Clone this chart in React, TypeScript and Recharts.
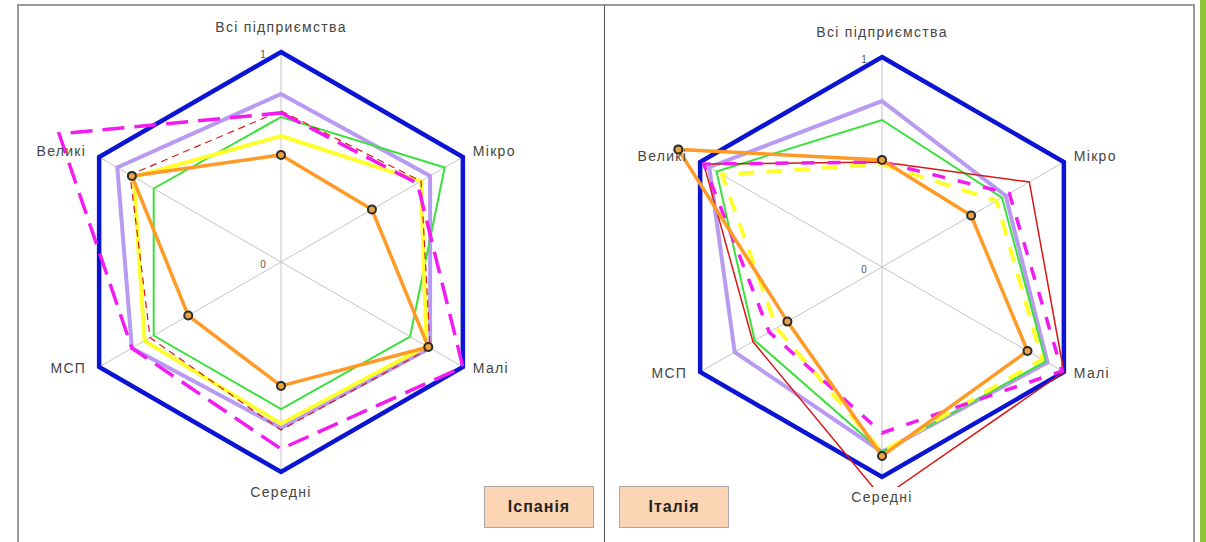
import React from "react";
import { PolarAngleAxis, PolarGrid, PolarRadiusAxis, Radar, RadarChart } from "recharts";

const categories = ["Всі підприємства", "Мікро", "Малі", "Середні", "МСП", "Великі"];
const radiusTicks = [0, 1];

// Іспанія
const spainBlue = [1, 1, 1, 1, 1, 1];
const spainLavender = [0.8, 0.82, 0.82, 0.79, 0.82, 0.9];
const spainGreen = [0.69, 0.9, 0.71, 0.7, 0.7, 0.7];
const spainYellow = [0.6, 0.77, 0.8, 0.77, 0.75, 0.81];
const spainRed = [0.72, 0.77, 0.82, 0.8, 0.72, 0.83];
const spainMagenta = [0.71, 0.75, 1.0, 0.89, 0.82, 1.22];
const spainOrange = [0.51, 0.5, 0.81, 0.59, 0.51, 0.82];

// Італія
const italyBlue = [1, 1, 1, 1, 1, 1];
const italyLavender = [0.79, 0.68, 0.91, 0.88, 0.81, 0.95];
const italyGreen = [0.7, 0.66, 0.9, 0.88, 0.7, 0.91];
const italyYellow = [0.49, 0.63, 0.88, 0.88, 0.58, 0.88];
const italyRed = [0.5, 0.81, 1.0, 1.1, 0.71, 0.98];
const italyMagenta = [0.5, 0.7, 0.99, 0.79, 0.62, 0.98];
const italyOrange = [0.51, 0.49, 0.8, 0.9, 0.52, 1.12];

const buildRows = (series: Record<string, number[]>) =>
  categories.map((category, i) => {
    const row: Record<string, string | number> = { category };
    Object.keys(series).forEach((k) => (row[k] = series[k][i]));
    return row;
  });

const spainRows = buildRows({
  blue: spainBlue,
  lavender: spainLavender,
  green: spainGreen,
  yellow: spainYellow,
  red: spainRed,
  magenta: spainMagenta,
  orange: spainOrange,
});

const italyRows = buildRows({
  blue: italyBlue,
  lavender: italyLavender,
  green: italyGreen,
  yellow: italyYellow,
  red: italyRed,
  magenta: italyMagenta,
  orange: italyOrange,
});

const labelFont = { fontFamily: "Liberation Sans, Arial, sans-serif", fontSize: 14, fill: "#454545", letterSpacing: 1.3 };

function AngleTick(props: any) {
  const { x, y, payload } = props;
  const idx = categories.indexOf(payload.value);
  let tx = x;
  let ty = y;
  let anchor: "start" | "middle" | "end" = "middle";
  if (idx === 0) ty = y - 17;
  else if (idx === 3) ty = y + 12;
  else if (idx === 1 || idx === 2) {
    tx = x + 3;
    ty = y - (idx === 1 ? 2 : 3);
    anchor = "start";
  } else {
    tx = x - 6;
    ty = y - (idx === 5 ? 2 : 3);
    anchor = "end";
  }
  return (
    <g>
      {idx === 3 && <rect x={tx - 36} y={ty - 10} width={72} height={20} fill="#fff" />}
      <text x={tx} y={ty} textAnchor={anchor} dominantBaseline="central" {...labelFont}>
        {payload.value}
      </text>
    </g>
  );
}

function RadiusTick(props: any) {
  const { x, y, payload } = props;
  return (
    <text x={x - 18} y={y + 2} textAnchor="middle" dominantBaseline="central" fontFamily="Liberation Sans, Arial, sans-serif" fontSize={10} fill="#555">
      {payload.value}
    </text>
  );
}

type Dash = { red?: string; magenta?: string; yellow?: string; redWidth?: number };

function CountryRadar({ rows, width, cx, cy, dash }: { rows: any[]; width: number; cx: number; cy: number; dash: Dash }) {
  return (
    <RadarChart width={width} height={542} data={rows} cx={cx} cy={cy} outerRadius={210} margin={{ top: 0, right: 0, bottom: 0, left: 0 }}>
      <PolarGrid gridType="polygon" stroke="#c4c4c4" polarRadius={[0]} />
      <PolarRadiusAxis angle={90} domain={[0, 1]} ticks={radiusTicks as any} tickCount={2} allowDataOverflow axisLine={false} tickLine={false} tick={(p: any) => <RadiusTick {...p} />} />
      <Radar dataKey="blue" stroke="#0A14D2" strokeWidth={4.5} fill="none" isAnimationActive={false} />
      <Radar dataKey="lavender" stroke="#B99AF2" strokeWidth={4} fill="none" isAnimationActive={false} />
      <Radar dataKey="green" stroke="#3BE03B" strokeWidth={2} fill="none" isAnimationActive={false} />
      <Radar dataKey="yellow" stroke="#FFFF2E" strokeWidth={4} strokeDasharray={dash.yellow} fill="none" isAnimationActive={false} />
      <Radar dataKey="red" stroke="#D81818" strokeWidth={dash.redWidth ?? 1.2} strokeDasharray={dash.red} fill="none" isAnimationActive={false} />
      <Radar dataKey="magenta" stroke="#F21CF2" strokeWidth={3.5} strokeDasharray={dash.magenta} fill="none" isAnimationActive={false} />
      <Radar
        dataKey="orange"
        stroke="#FF9A26"
        strokeWidth={3.5}
        fill="none"
        dot={{ r: 4, fill: "#E9A23E", stroke: "#2a2a2a", strokeWidth: 2 }}
        isAnimationActive={false}
      />
      <PolarAngleAxis dataKey="category" tickLine={false} axisLine={false} tick={(p: any) => <AngleTick {...p} />} />
    </RadarChart>
  );
}

function CountryBox({ left, text }: { left: number; text: string }) {
  return (
    <div
      style={{
        position: "absolute",
        left,
        top: 486,
        width: 110,
        height: 42,
        boxSizing: "border-box",
        background: "#FCD5B4",
        border: "1px solid #a8a8a8",
        display: "flex",
        alignItems: "center",
        justifyContent: "center",
        fontFamily: "Liberation Sans, Arial, sans-serif",
        fontWeight: "bold",
        fontSize: 16,
        letterSpacing: 1,
        color: "#222",
      }}
    >
      {text}
    </div>
  );
}

export default function App() {
  return (
    <div style={{ position: "absolute", left: 0, top: 0, width: 1206, height: 542, background: "#fff", overflow: "hidden" }}>
      <div style={{ position: "absolute", left: 17, top: 4, width: 1178, height: 560, boxSizing: "border-box", border: "2px solid #9a9a9a" }} />
      <div style={{ position: "absolute", left: 604, top: 5, width: 1, height: 540, background: "#555" }} />
      <div style={{ position: "absolute", left: 1200, top: 0, width: 6, height: 542, background: "#8DC33B" }} />
      <div style={{ position: "absolute", left: 17, top: 0 }}>
        <CountryRadar rows={spainRows} width={587} cx={264} cy={262} dash={{ red: "7 5", magenta: "22 10" }} />
      </div>
      <div style={{ position: "absolute", left: 605, top: 0 }}>
        <CountryRadar rows={italyRows} width={590} cx={277} cy={267} dash={{ yellow: "16 12", magenta: "13 13", redWidth: 1.5 }} />
      </div>
      <CountryBox left={484} text="Іспанія" />
      <CountryBox left={619} text="Італія" />
    </div>
  );
}
